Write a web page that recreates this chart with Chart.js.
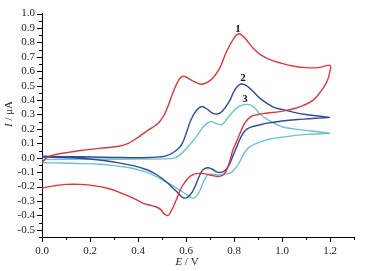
<!DOCTYPE html>
<html>
<head>
<meta charset="utf-8">
<script src="https://cdn.jsdelivr.net/npm/chart.js@4"></script>
<style>
  html, body { margin: 0; padding: 0; background: #fff; }
  #wrap { width: 365px; height: 271px; }
</style>
</head>
<body>
<div id="wrap"><canvas id="cv" width="365" height="271"></canvas></div>
<script>
// Curve 1 (red): forward scan then reverse scan
const c1E = [0.0, 0.02, 0.05, 0.1, 0.16, 0.24, 0.32, 0.36, 0.39, 0.42, 0.45, 0.47, 0.49, 0.51, 0.53, 0.55, 0.57, 0.585, 0.60, 0.62, 0.645, 0.665, 0.69, 0.71, 0.74, 0.77, 0.80, 0.82, 0.84, 0.86, 0.88, 0.91, 0.95, 1.0, 1.05, 1.1, 1.15, 1.2,
             1.2, 1.19, 1.17, 1.13, 1.06, 0.99, 0.94, 0.90, 0.87, 0.845, 0.825, 0.81, 0.795, 0.785, 0.775, 0.765, 0.75, 0.73, 0.70, 0.67, 0.645, 0.625, 0.61, 0.595, 0.58, 0.565, 0.55, 0.535, 0.525, 0.51, 0.495, 0.475, 0.45, 0.42, 0.38, 0.33, 0.28, 0.22, 0.16, 0.10, 0.05, 0.0];
const c1I = [-0.035, 0.0, 0.02, 0.035, 0.05, 0.065, 0.08, 0.10, 0.13, 0.165, 0.2, 0.22, 0.25, 0.30, 0.38, 0.47, 0.54, 0.565, 0.56, 0.54, 0.52, 0.51, 0.525, 0.55, 0.62, 0.74, 0.83, 0.86, 0.84, 0.80, 0.76, 0.715, 0.68, 0.655, 0.635, 0.625, 0.625, 0.64,
             0.60, 0.54, 0.48, 0.40, 0.345, 0.32, 0.31, 0.30, 0.285, 0.24, 0.17, 0.11, 0.05, -0.01, -0.06, -0.10, -0.125, -0.13, -0.12, -0.11, -0.11, -0.12, -0.14, -0.17, -0.21, -0.27, -0.33, -0.38, -0.40, -0.39, -0.36, -0.34, -0.33, -0.315, -0.28, -0.245, -0.215, -0.195, -0.185, -0.185, -0.195, -0.21];

// Curve 2 (dark blue)
const c2E = [0.0, 0.1, 0.2, 0.3, 0.4, 0.45, 0.49, 0.52, 0.55, 0.575, 0.59, 0.605, 0.62, 0.64, 0.665, 0.69, 0.71, 0.73, 0.75, 0.78, 0.80, 0.82, 0.84, 0.86, 0.88, 0.91, 0.96, 1.0, 1.05, 1.1, 1.15, 1.2,
             1.2, 1.15, 1.09, 1.0, 0.94, 0.90, 0.875, 0.855, 0.84, 0.825, 0.81, 0.795, 0.78, 0.765, 0.75, 0.73, 0.71, 0.69, 0.67, 0.655, 0.64, 0.625, 0.61, 0.598, 0.585, 0.57, 0.545, 0.52, 0.48, 0.44, 0.38, 0.30, 0.22, 0.12, 0.0];
const c2I = [0.01, 0.008, 0.005, 0.002, 0.0, 0.002, 0.006, 0.015, 0.04, 0.075, 0.12, 0.19, 0.26, 0.32, 0.355, 0.335, 0.31, 0.303, 0.32, 0.39, 0.46, 0.505, 0.51, 0.49, 0.46, 0.41, 0.355, 0.335, 0.315, 0.30, 0.29, 0.28,
             0.28, 0.275, 0.268, 0.255, 0.24, 0.225, 0.215, 0.2, 0.175, 0.13, 0.07, 0.01, -0.05, -0.085, -0.10, -0.10, -0.08, -0.07, -0.085, -0.13, -0.19, -0.24, -0.27, -0.28, -0.275, -0.25, -0.21, -0.17, -0.12, -0.085, -0.055, -0.03, -0.012, 0.0, 0.005];

// Curve 3 (cyan)
const c3E = [0.0, 0.2, 0.4, 0.5, 0.55, 0.575, 0.60, 0.625, 0.645, 0.67, 0.70, 0.73, 0.75, 0.78, 0.82, 0.855, 0.88, 0.91, 0.96, 1.0, 1.05, 1.1, 1.15, 1.2,
             1.2, 1.09, 0.99, 0.95, 0.92, 0.895, 0.87, 0.85, 0.835, 0.82, 0.805, 0.79, 0.775, 0.755, 0.73, 0.71, 0.69, 0.675, 0.66, 0.645, 0.63, 0.61, 0.575, 0.55, 0.52, 0.45, 0.38, 0.3, 0.24, 0.15, 0.07, 0.0];
const c3I = [-0.012, -0.01, -0.01, -0.008, -0.003, 0.02, 0.06, 0.11, 0.15, 0.21, 0.25, 0.235, 0.23, 0.29, 0.355, 0.37, 0.355, 0.30, 0.245, 0.215, 0.20, 0.19, 0.18, 0.17,
             0.17, 0.16, 0.14, 0.13, 0.115, 0.10, 0.08, 0.05, 0.01, -0.04, -0.075, -0.10, -0.11, -0.115, -0.12, -0.115, -0.12, -0.16, -0.22, -0.265, -0.28, -0.265, -0.225, -0.2, -0.17, -0.11, -0.075, -0.055, -0.045, -0.04, -0.037, -0.035];

const xTicks = [0.0, 0.2, 0.4, 0.6, 0.8, 1.0, 1.2];
const yTicks = [-0.5, -0.4, -0.3, -0.2, -0.1, 0.0, 0.1, 0.2, 0.3, 0.4, 0.5, 0.6, 0.7, 0.8, 0.9, 1.0];
const curveLabels = ['1', '2', '3'];
const labelE = [0.817, 0.8375, 0.846];
const labelI = [0.89, 0.555, 0.404];

const FONT = '"Liberation Serif", "DejaVu Serif", serif';

function toPoints(es, is) {
  return es.map((e, i) => ({ x: e, y: is[i] }));
}

// Axis decorations: outward ticks, axis titles, curve numbers
const decorations = {
  id: 'decorations',
  afterDraw(chart) {
    const { ctx, scales: { x, y }, chartArea } = chart;
    ctx.save();
    ctx.strokeStyle = '#000';
    ctx.lineWidth = 1;
    ctx.beginPath();
    // x ticks: major every 0.2, minor between
    for (let k = 0; k <= 13; k++) {
      const px = Math.round(x.getPixelForValue(k / 10)) + 0.5;
      const len = (k % 2 === 0) ? 5 : 3;
      ctx.moveTo(px, chartArea.bottom);
      ctx.lineTo(px, chartArea.bottom + len);
    }
    // y ticks: major every 0.1, minor between
    for (let k = -11; k <= 20; k++) {
      const py = Math.round(y.getPixelForValue(k / 20)) + 0.5;
      const len = (k % 2 === 0) ? 5 : 3;
      ctx.moveTo(chartArea.left, py);
      ctx.lineTo(chartArea.left - len, py);
    }
    ctx.stroke();

    ctx.fillStyle = '#222';
    ctx.textBaseline = 'middle';
    // x title: E / V
    drawMixed(ctx, [['E', 'italic 11px ' + FONT], [' / V', '11px ' + FONT]], 187, 262);
    // y title: I / μA (rotated)
    ctx.save();
    ctx.translate(9, 114);
    ctx.rotate(-Math.PI / 2);
    drawMixed(ctx, [['I', 'italic 11px ' + FONT], [' / μA', '11px ' + FONT]], 0, 0);
    ctx.restore();

    // curve numbers
    ctx.font = 'bold 11px ' + FONT;
    ctx.textAlign = 'center';
    ctx.fillStyle = '#111';
    curveLabels.forEach((t, i) => {
      ctx.fillText(t, x.getPixelForValue(labelE[i]), y.getPixelForValue(labelI[i]));
    });
    ctx.restore();
  }
};

function drawMixed(ctx, parts, cx, cy) {
  let total = 0;
  parts.forEach(p => { ctx.font = p[1]; total += ctx.measureText(p[0]).width; });
  let pos = cx - total / 2;
  ctx.textAlign = 'left';
  parts.forEach(p => {
    ctx.font = p[1];
    ctx.fillText(p[0], pos, cy);
    pos += ctx.measureText(p[0]).width;
  });
}

const lineStyle = { borderWidth: 1.4, pointRadius: 0, tension: 0.4, fill: false };

new Chart(document.getElementById('cv'), {
  type: 'line',
  data: {
    datasets: [
      { data: toPoints(c1E, c1I), borderColor: '#e3343a', ...lineStyle },
      { data: toPoints(c2E, c2I), borderColor: '#2f4c9a', ...lineStyle },
      { data: toPoints(c3E, c3I), borderColor: '#6ac6c8', ...lineStyle }
    ]
  },
  options: {
    responsive: false,
    animation: false,
    layout: { padding: { top: 11, right: 11, left: 0, bottom: 0 } },
    plugins: { legend: { display: false }, tooltip: { enabled: false } },
    scales: {
      x: {
        type: 'linear',
        min: 0,
        max: 1.3,
        afterBuildTicks: s => { s.ticks = xTicks.map(v => ({ value: v })); },
        afterFit: s => { s.height = 34; },
        grid: { display: false, drawTicks: false },
        border: { display: true, color: '#000', width: 1 },
        ticks: {
          autoSkip: false,
          padding: 8,
          color: '#222',
          font: { family: FONT, size: 11 },
          maxRotation: 0,
          callback: v => v.toFixed(1)
        }
      },
      y: {
        min: -0.55,
        max: 1.0,
        afterBuildTicks: s => { s.ticks = yTicks.map(v => ({ value: v })); },
        afterFit: s => { s.width = 42; },
        grid: { display: false, drawTicks: false },
        border: { display: true, color: '#000', width: 1 },
        ticks: {
          autoSkip: false,
          padding: 7,
          color: '#222',
          font: { family: FONT, size: 11 },
          callback: v => v.toFixed(1)
        }
      }
    }
  },
  plugins: [decorations]
});
</script>
</body>
</html>
